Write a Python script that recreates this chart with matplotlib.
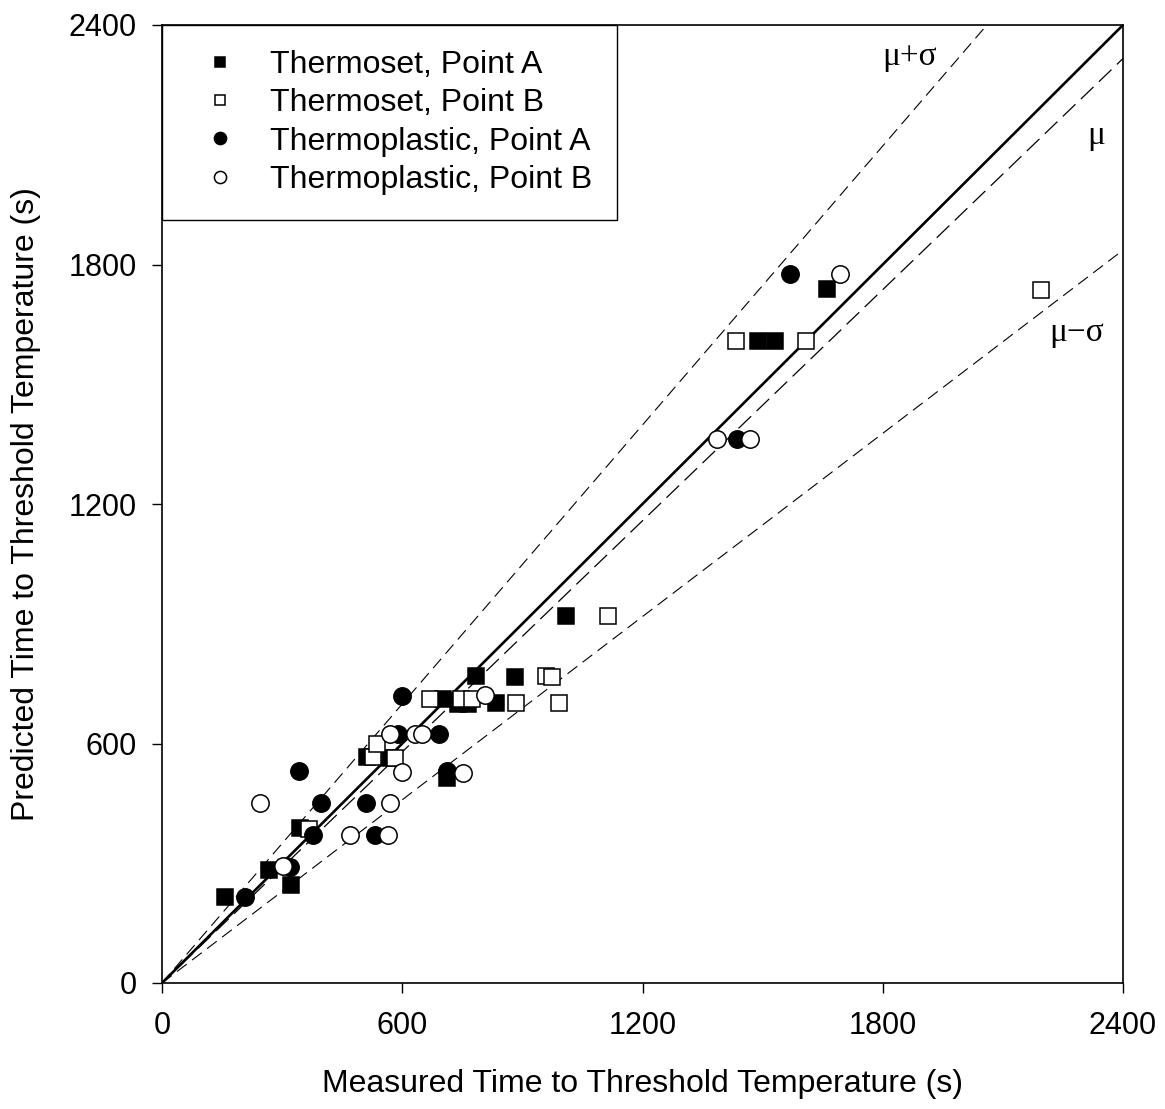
import matplotlib
matplotlib.use("Agg")
import matplotlib.pyplot as plt
import numpy as np

plt.rcParams['font.family'] = ['Liberation Sans', 'DejaVu Sans']

# measured (x) vs predicted (y) time to threshold temperature, s
ts_a_x = [157, 266, 321, 345, 511, 569, 711, 701, 739, 764, 784, 834, 882, 1009, 1488, 1531, 1660]
ts_a_y = [216, 283, 245, 388, 567, 563, 514, 711, 699, 699, 769, 701, 767, 919, 1609, 1609, 1738]

ts_b_x = [367, 528, 536, 582, 669, 747, 774, 884, 960, 975, 992, 1114, 1434, 1608, 2195]
ts_b_y = [387, 567, 598, 563, 711, 711, 711, 701, 769, 766, 701, 919, 1609, 1609, 1736]

tp_a_x = [207, 320, 343, 378, 397, 509, 532, 590, 599, 693, 711, 1437, 1568]
tp_a_y = [215, 291, 531, 371, 452, 452, 371, 625, 720, 625, 531, 1364, 1776]

tp_b_x = [245, 303, 470, 565, 569, 569, 599, 632, 649, 751, 807, 1385, 1469, 1692]
tp_b_y = [452, 293, 371, 371, 452, 625, 529, 625, 625, 525, 721, 1364, 1364, 1776]

# slopes of the mean and mean +/- std lines
slope_mu = 0.965
slope_plus = 1.165
slope_minus = 0.765

fig = plt.figure(figsize=(11.65, 11.09), dpi=100)
ax = fig.add_axes([162/1165, 126/1109, 961/1165, 958/1109])

xx = np.array([0, 2400])
ax.plot(xx, xx, color='black', lw=1.9, zorder=2)
ax.plot(xx, slope_mu*xx, color='black', lw=0.9, dashes=(14, 6), zorder=2)
ax.plot(xx, slope_plus*xx, color='black', lw=0.8, dashes=(11, 6), zorder=2)
ax.plot(xx, slope_minus*xx, color='black', lw=0.8, dashes=(11, 6), zorder=2)

serif = ['Liberation Serif', 'DejaVu Serif']
ax.text(1866, 2320, 'μ+σ', family=serif, fontsize=24, ha='center', va='center')
ax.text(2333, 2122, 'μ', family=serif, fontsize=24, ha='center', va='center')
ax.text(2283, 1628, 'μ−σ', family=serif, fontsize=24, ha='center', va='center')

ms_sq = 11
ms_ci = 12.5
ax.plot(ts_a_x, ts_a_y, 's', ms=ms_sq, mfc='black', mec='black', mew=1.1, label='Thermoset, Point A', zorder=3)
ax.plot(ts_b_x, ts_b_y, 's', ms=ms_sq, mfc='white', mec='black', mew=1.1, label='Thermoset, Point B', zorder=3)
ax.plot(tp_a_x, tp_a_y, 'o', ms=ms_ci, mfc='black', mec='black', mew=1.1, label='Thermoplastic, Point A', zorder=3)
ax.plot(tp_b_x, tp_b_y, 'o', ms=ms_ci, mfc='white', mec='black', mew=1.1, label='Thermoplastic, Point B', zorder=3)

ax.set_xlim(0, 2400)
ax.set_ylim(0, 2400)
ax.set_xticks([0, 600, 1200, 1800, 2400])
ax.set_yticks([0, 600, 1200, 1800, 2400])
ax.tick_params(direction='out', length=7, width=1, labelsize=22)
ax.tick_params(axis='y', pad=11)
ax.tick_params(axis='x', pad=13)
for s in ax.spines.values():
    s.set_linewidth(1.2)

ax.set_xlabel('Measured Time to Threshold Temperature (s)', fontsize=23, labelpad=20)
ax.set_ylabel('Predicted Time to Threshold Temperature (s)', fontsize=23, labelpad=20)

leg = ax.legend(loc='upper left', borderaxespad=0, fontsize=23, markerscale=0.7,
                fancybox=False, edgecolor='black', framealpha=1, handletextpad=0.5,
                borderpad=0.78, labelspacing=0.26, handlelength=2.1)
leg.get_frame().set_linewidth(1.0)

fig.savefig('out.png', dpi=100)
